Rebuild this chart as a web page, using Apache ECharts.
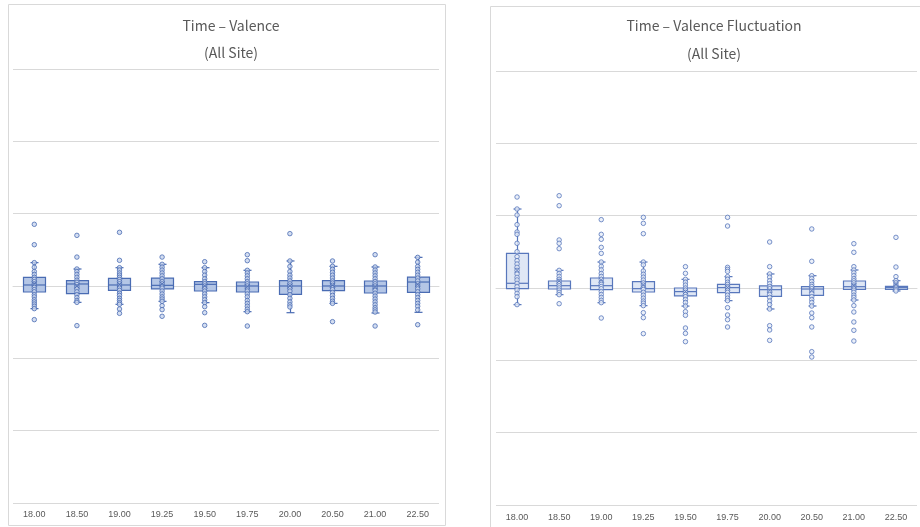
<!DOCTYPE html>
<html>
<head>
<meta charset="utf-8">
<script src="https://cdn.jsdelivr.net/npm/echarts@6/dist/echarts.min.js"></script>
<style>
  html, body { margin: 0; padding: 0; background: #fff; }
  #chart { width: 920px; height: 527px; }
</style>
</head>
<body>
<div id="chart"></div>
<script>
// categories (time)
const categories = ['18.00', '18.50', '19.00', '19.25', '19.50', '19.75', '20.00', '20.50', '21.00', '22.50'];

// box stats per category: [min whisker, Q1, median, Q3, max whisker]
const valenceBoxes = [
  [-0.313, -0.083, 0.014, 0.12, 0.323],
  [-0.226, -0.106, 0.028, 0.074, 0.235],
  [-0.253, -0.06, 0.014, 0.106, 0.253],
  [-0.212, -0.041, 0.009, 0.11, 0.30],
  [-0.23, -0.069, 0.023, 0.06, 0.253],
  [-0.355, -0.083, 0.0, 0.055, 0.217],
  [-0.369, -0.115, 0.0, 0.074, 0.346],
  [-0.24, -0.065, 0.0, 0.074, 0.272],
  [-0.373, -0.097, 0.0, 0.069, 0.263],
  [-0.364, -0.088, 0.055, 0.124, 0.396]
];
const valenceMeans = [0.03, 0.0, 0.02, 0.03, 0.0, -0.01, 0.0, 0.01, -0.01, 0.02];

const fluctBoxes = [
  [-0.23, -0.009, 0.065, 0.479, 1.092],
  [-0.092, -0.014, 0.032, 0.097, 0.244],
  [-0.203, -0.023, 0.032, 0.138, 0.359],
  [-0.244, -0.055, -0.009, 0.088, 0.359],
  [-0.25, -0.11, -0.05, 0.0, 0.12],
  [-0.175, -0.065, 0.005, 0.051, 0.157],
  [-0.29, -0.115, -0.023, 0.028, 0.194],
  [-0.249, -0.101, -0.014, 0.018, 0.17],
  [-0.166, -0.018, 0.018, 0.097, 0.249],
  [-0.041, -0.018, 0.005, 0.023, 0.101]
];
const fluctMeans = [0.244, 0.097, 0.11, 0.04, -0.05, 0.005, -0.03, -0.03, 0.03, 0.05];

// individual points (inner points and outliers)
const valencePoints = [
  [0.853, 0.571, 0.323, 0.259, 0.2, 0.16, 0.12, 0.09, 0.06, 0.03, 0.01, -0.02, -0.05, -0.08, -0.12, -0.15, -0.19, -0.22, -0.25, -0.28, -0.313, -0.465],
  [0.70, 0.40, 0.235, 0.2, 0.16, 0.12, 0.08, 0.05, 0.02, -0.01, -0.04, -0.08, -0.12, -0.16, -0.2, -0.226, -0.548],
  [0.742, 0.355, 0.253, 0.22, 0.18, 0.15, 0.12, 0.09, 0.06, 0.03, 0.0, -0.03, -0.06, -0.1, -0.13, -0.17, -0.2, -0.23, -0.253, -0.318, -0.378],
  [0.40, 0.30, 0.26, 0.22, 0.18, 0.14, 0.1, 0.06, 0.03, 0.0, -0.03, -0.07, -0.11, -0.15, -0.18, -0.212, -0.272, -0.327, -0.419],
  [0.336, 0.253, 0.2, 0.15, 0.1, 0.06, 0.03, 0.0, -0.03, -0.07, -0.11, -0.15, -0.19, -0.23, -0.286, -0.369, -0.544],
  [0.433, 0.35, 0.217, 0.18, 0.14, 0.1, 0.06, 0.03, 0.0, -0.03, -0.07, -0.11, -0.15, -0.2, -0.24, -0.28, -0.32, -0.355, -0.553],
  [0.724, 0.346, 0.27, 0.2, 0.15, 0.11, 0.07, 0.03, 0.0, -0.03, -0.07, -0.12, -0.17, -0.22, -0.26, -0.29],
  [0.346, 0.272, 0.23, 0.19, 0.15, 0.11, 0.07, 0.04, 0.01, -0.02, -0.05, -0.09, -0.13, -0.17, -0.21, -0.24, -0.493],
  [0.433, 0.263, 0.22, 0.18, 0.14, 0.1, 0.06, 0.03, 0.0, -0.03, -0.06, -0.1, -0.14, -0.18, -0.22, -0.26, -0.3, -0.33, -0.36, -0.553],
  [0.396, 0.33, 0.27, 0.23, 0.19, 0.15, 0.11, 0.07, 0.03, 0.0, -0.04, -0.08, -0.12, -0.16, -0.2, -0.24, -0.28, -0.33, -0.535]
];
const fluctPoints = [
  [1.258, 1.092, 1.009, 0.876, 0.774, 0.742, 0.618, 0.502, 0.433, 0.378, 0.332, 0.286, 0.244, 0.194, 0.147, 0.111, 0.065, 0.018, -0.028, -0.074, -0.12, -0.23],
  [1.276, 1.138, 0.664, 0.618, 0.544, 0.244, 0.2, 0.16, 0.12, 0.09, 0.06, 0.03, 0.0, -0.03, -0.06, -0.092, -0.217],
  [0.945, 0.742, 0.673, 0.562, 0.479, 0.359, 0.3, 0.25, 0.2, 0.16, 0.12, 0.08, 0.05, 0.02, -0.01, -0.05, -0.09, -0.13, -0.17, -0.203, -0.415],
  [0.977, 0.894, 0.751, 0.359, 0.32, 0.235, 0.19, 0.15, 0.11, 0.07, 0.04, 0.01, -0.02, -0.06, -0.1, -0.14, -0.18, -0.21, -0.244, -0.341, -0.41, -0.631],
  [0.295, 0.203, 0.12, 0.08, 0.04, 0.0, -0.03, -0.06, -0.09, -0.12, -0.16, -0.2, -0.25, -0.327, -0.378, -0.553, -0.627, -0.742],
  [0.977, 0.857, 0.286, 0.258, 0.23, 0.157, 0.12, 0.08, 0.05, 0.02, 0.0, -0.03, -0.06, -0.1, -0.14, -0.175, -0.272, -0.373, -0.438, -0.539],
  [0.636, 0.295, 0.194, 0.15, 0.1, 0.06, 0.02, -0.01, -0.05, -0.09, -0.13, -0.18, -0.23, -0.29, -0.521, -0.58, -0.724],
  [0.816, 0.369, 0.17, 0.13, 0.09, 0.05, 0.02, -0.01, -0.04, -0.08, -0.12, -0.16, -0.2, -0.249, -0.346, -0.41, -0.539, -0.88, -0.954],
  [0.613, 0.493, 0.295, 0.249, 0.21, 0.17, 0.13, 0.1, 0.07, 0.04, 0.02, 0.0, -0.03, -0.06, -0.1, -0.13, -0.166, -0.244, -0.332, -0.47, -0.585, -0.733],
  [0.7, 0.29, 0.157, 0.101, 0.07, 0.04, 0.02, 0.0, -0.02, -0.041]
];

const gridColor = '#d9d9d9';
const textColor = '#595959';

function boxRenderer(fill, stroke) {
  return function (params, api) {
    const i = api.value(0);
    const lo = api.coord([i, api.value(1)]);
    const q1 = api.coord([i, api.value(2)]);
    const md = api.coord([i, api.value(3)]);
    const q3 = api.coord([i, api.value(4)]);
    const hi = api.coord([i, api.value(5)]);
    const cx = Math.round(lo[0]) + 0.5;
    const hw = 11, cap = 4;
    const ls = { stroke: stroke, lineWidth: 1.2 };
    return {
      type: 'group',
      children: [
        { type: 'line', shape: { x1: cx, y1: q3[1], x2: cx, y2: hi[1] }, style: ls },
        { type: 'line', shape: { x1: cx - cap, y1: hi[1], x2: cx + cap, y2: hi[1] }, style: ls },
        { type: 'line', shape: { x1: cx, y1: q1[1], x2: cx, y2: lo[1] }, style: ls },
        { type: 'line', shape: { x1: cx - cap, y1: lo[1], x2: cx + cap, y2: lo[1] }, style: ls },
        { type: 'rect', shape: { x: cx - hw, y: q3[1], width: hw * 2, height: q1[1] - q3[1] },
          style: { fill: fill, stroke: stroke, lineWidth: 1.2 } },
        { type: 'line', shape: { x1: cx - hw, y1: md[1], x2: cx + hw, y2: md[1] }, style: ls }
      ]
    };
  };
}

const boxData = boxes => boxes.map((b, i) => [i].concat(b));
const pointData = pts => pts.flatMap((arr, i) => arr.map(v => [i, v]));
const meanData = means => means.map((m, i) => [i, m]);

function xAxisFor(gridIndex, margin) {
  return {
    type: 'category', gridIndex: gridIndex, data: categories,
    axisTick: { show: false },
    axisLine: { lineStyle: { color: gridColor } },
    axisLabel: { color: textColor, fontSize: 9, margin: margin, fontFamily: 'Liberation Sans' },
    splitLine: { show: false }
  };
}
function yAxisFor(gridIndex) {
  return {
    type: 'value', gridIndex: gridIndex, min: -3, max: 3, interval: 1,
    axisLine: { show: false }, axisTick: { show: false }, axisLabel: { show: false },
    splitLine: { lineStyle: { color: gridColor, width: 1 } }
  };
}

const leftStroke = '#4a6cb3', leftFill = '#b4c6e6', leftPtFill = '#c9d6ee';
const rightStroke = '#5877bc', rightFill = '#dfe7f5', rightPtFill = '#e6ecf7';
const xMark = 'path://M0,0L10,10M10,0L0,10';
const titleStyle = { fontSize: 14, fontWeight: 'normal', color: textColor, fontFamily: 'Noto Sans CJK KR' };

const chart = echarts.init(document.getElementById('chart'));
chart.setOption({
  animation: false,
  title: [
    { text: 'Time – Valence', left: 226, top: 14, textAlign: 'center', textStyle: titleStyle },
    { text: '(All Site)', left: 226, top: 41, textAlign: 'center', textStyle: titleStyle },
    { text: 'Time – Valence Fluctuation', left: 709, top: 14, textAlign: 'center', textStyle: titleStyle },
    { text: '(All Site)', left: 709, top: 42, textAlign: 'center', textStyle: titleStyle }
  ],
  graphic: [
    { type: 'rect', shape: { x: 8.5, y: 4.5, width: 437, height: 521 },
      style: { fill: 'none', stroke: gridColor, lineWidth: 1 }, z: -10 },
    { type: 'rect', shape: { x: 490.5, y: 6.5, width: 440, height: 530 },
      style: { fill: 'none', stroke: gridColor, lineWidth: 1 }, z: -10 }
  ],
  grid: [
    { left: 13, top: 69, width: 426, height: 434 },
    { left: 496, top: 71, width: 421, height: 434 }
  ],
  xAxis: [xAxisFor(0, 7), xAxisFor(1, 8)],
  yAxis: [yAxisFor(0), yAxisFor(1)],
  series: [
    { type: 'custom', xAxisIndex: 0, yAxisIndex: 0, renderItem: boxRenderer(leftFill, leftStroke),
      encode: { x: 0, y: [1, 2, 3, 4, 5] }, data: boxData(valenceBoxes), z: 2 },
    { type: 'scatter', xAxisIndex: 0, yAxisIndex: 0, symbol: 'circle', symbolSize: 4.5,
      itemStyle: { color: leftPtFill, borderColor: leftStroke, borderWidth: 1 },
      data: pointData(valencePoints), z: 3 },
    { type: 'scatter', xAxisIndex: 0, yAxisIndex: 0, symbol: xMark, symbolSize: 5,
      itemStyle: { color: 'none', borderColor: leftStroke, borderWidth: 1 },
      data: meanData(valenceMeans), z: 4 },
    { type: 'custom', xAxisIndex: 1, yAxisIndex: 1, renderItem: boxRenderer(rightFill, rightStroke),
      encode: { x: 0, y: [1, 2, 3, 4, 5] }, data: boxData(fluctBoxes), z: 2 },
    { type: 'scatter', xAxisIndex: 1, yAxisIndex: 1, symbol: 'circle', symbolSize: 4.5,
      itemStyle: { color: rightPtFill, borderColor: rightStroke, borderWidth: 1 },
      data: pointData(fluctPoints), z: 3 },
    { type: 'scatter', xAxisIndex: 1, yAxisIndex: 1, symbol: xMark, symbolSize: 5,
      itemStyle: { color: 'none', borderColor: rightStroke, borderWidth: 1 },
      data: meanData(fluctMeans), z: 4 }
  ]
});
</script>
</body>
</html>
